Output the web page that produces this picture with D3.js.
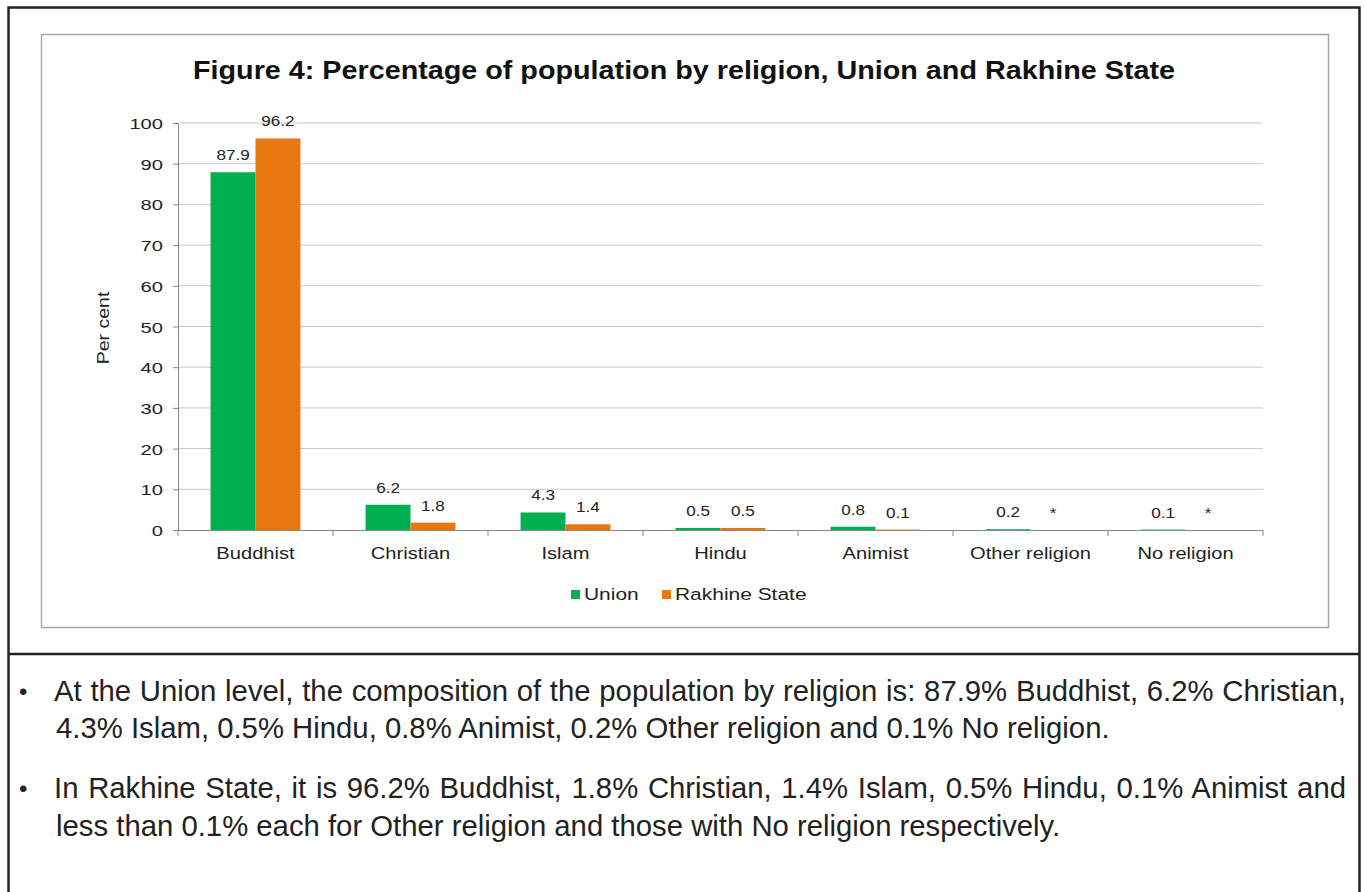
<!DOCTYPE html>
<html><head><meta charset="utf-8">
<script src="https://cdn.jsdelivr.net/npm/d3@7"></script>
<style>
html,body{margin:0;padding:0;background:#fff;}
svg{display:block;font-family:"Liberation Sans",Arial,sans-serif;}
</style></head>
<body>
<svg id="c" width="1364" height="892"></svg>
<script>
const categories = ["Buddhist","Christian","Islam","Hindu","Animist","Other religion","No religion"];
const seriesNames = ["Union","Rakhine State"];
const unionValues = [87.9, 6.2, 4.3, 0.5, 0.8, 0.2, 0.1];
const rakhineValues = [96.2, 1.8, 1.4, 0.5, 0.1, 0, 0];
const unionLabels = ["87.9","6.2","4.3","0.5","0.8","0.2","0.1"];
const rakhineLabels = ["96.2","1.8","1.4","0.5","0.1","*","*"];
const yTicks = [0,10,20,30,40,50,60,70,80,90,100];
const colors = ["#00b050","#e8770f"];
const title = "Figure 4: Percentage of population by religion, Union and Rakhine State";
const paragraphs = [
  ["At the Union level, the composition of the population by religion is: 87.9% Buddhist, 6.2% Christian,",
   "4.3% Islam, 0.5% Hindu, 0.8% Animist, 0.2% Other religion and 0.1% No religion."],
  ["In Rakhine State, it is 96.2% Buddhist, 1.8% Christian, 1.4% Islam, 0.5% Hindu, 0.1% Animist and",
   "less than 0.1% each for Other religion and those with No religion respectively."]
];

const svg = d3.select("#c");
const SX = 1.25; // horizontal stretch of chart texts

function stext(parent, x, y, str, size, anchor, sx){
  return parent.append("text").attr("transform",`translate(${x},${y}) scale(${sx||SX},1)`)
    .attr("text-anchor",anchor||"start").attr("font-size",size).attr("fill","#222").text(str);
}

// outer frame
svg.append("path").attr("d","M8.5,892 V7.5 H1359.5 V892").attr("fill","none").attr("stroke","#222").attr("stroke-width",2.5);
svg.append("line").attr("x1",8).attr("x2",1360).attr("y1",654).attr("y2",654).attr("stroke","#222").attr("stroke-width",2.5);
// chart box
svg.append("rect").attr("x",41.5).attr("y",34.5).attr("width",1287).attr("height",593)
  .attr("fill","#fff").attr("stroke","#a6a6a6").attr("stroke-width",1.5);

svg.append("text").attr("x",193).attr("y",79)
  .attr("font-size",25).attr("font-weight","bold").attr("fill","#111")
  .attr("textLength",982).attr("lengthAdjust","spacingAndGlyphs").text(title);

const x0 = d3.scaleBand().domain(categories).range([178,1263]).paddingInner(0.42).paddingOuter(0.21);
const x1 = d3.scaleBand().domain(seriesNames).range([0,x0.bandwidth()]);
const y = d3.scaleLinear().domain([0,100]).range([530,123]);

// gridlines
svg.append("g").selectAll("line").data(yTicks.filter(d=>d>0)).join("line")
  .attr("x1",178).attr("x2",1263).attr("y1",d=>y(d)).attr("y2",d=>y(d))
  .attr("stroke","#c8c8c8").attr("stroke-width",1);

// y axis
const yAxis = svg.append("g").attr("transform","translate(178,0)")
  .call(d3.axisLeft(y).tickValues(yTicks).tickSize(5).tickFormat(""));
yAxis.select(".domain").attr("stroke","#888");
yAxis.selectAll(".tick line").attr("stroke","#888");
yAxis.selectAll(".tick").each(function(d){
  stext(d3.select(this), -15, 5.5, String(d), 15.5, "end", 1.3);
});

svg.append("text").attr("transform","translate(109,328) rotate(-90) scale(1.15,1)").attr("text-anchor","middle")
  .attr("font-size",17).attr("fill","#222").text("Per cent");

// bars
const data = categories.map((c,i)=>({c, vals:[
  {s:seriesNames[0], v:unionValues[i], l:unionLabels[i]},
  {s:seriesNames[1], v:rakhineValues[i], l:rakhineLabels[i]}]}));
const g = svg.append("g").selectAll("g").data(data).join("g")
  .attr("transform",d=>`translate(${x0(d.c)},0)`);
g.selectAll("rect").data(d=>d.vals).join("rect")
  .attr("x",d=>x1(d.s)).attr("width",x1.bandwidth())
  .attr("y",d=>y(d.v)).attr("height",d=>y(0)-y(d.v))
  .attr("fill",(d,i)=>colors[i]);
g.each(function(d){
  const gg = d3.select(this);
  d.vals.forEach(v=>{
    stext(gg, x1(v.s)+x1.bandwidth()/2, y(v.v)-12, v.l, 14.5, "middle", 1.18);
  });
});

// x axis
const boundaries = d3.range(categories.length+1).map(i=>178+i*(1085/categories.length));
svg.append("line").attr("x1",178).attr("x2",1263).attr("y1",530.5).attr("y2",530.5).attr("stroke","#888");
svg.append("g").selectAll("line").data(boundaries).join("line")
  .attr("x1",d=>d).attr("x2",d=>d).attr("y1",530).attr("y2",536).attr("stroke","#888");
const xl = svg.append("g");
categories.forEach(c=>{
  stext(xl, x0(c)+x0.bandwidth()/2, 558.5, c, 16.5, "middle", 1.22);
});

// legend
const leg = svg.append("g");
const legX = [571, 662];
seriesNames.forEach((s,i)=>{
  leg.append("rect").attr("x",legX[i]).attr("y",590).attr("width",9).attr("height",9).attr("fill",colors[i]);
  stext(leg, legX[i]+13, 600, s, 16.5, "start", 1.27);
});

// bullets text
const lineYs = [[701,738],[798,836]];
paragraphs.forEach((p,pi)=>{
  svg.append("text").attr("x",19).attr("y",lineYs[pi][0]-1).attr("font-size",24).attr("fill","#222").text("•");
  p.forEach((line,li)=>{
    const t = svg.append("text").attr("x",li===0?54:56).attr("y",lineYs[pi][li])
      .attr("font-size",29.3).attr("fill","#222").text(line);
    if(li===0){
      const w = t.node().getComputedTextLength();
      const spaces = (line.match(/ /g)||[]).length;
      t.attr("word-spacing",(1346-54-w)/spaces);
    }
  });
});
</script>
</body></html>
